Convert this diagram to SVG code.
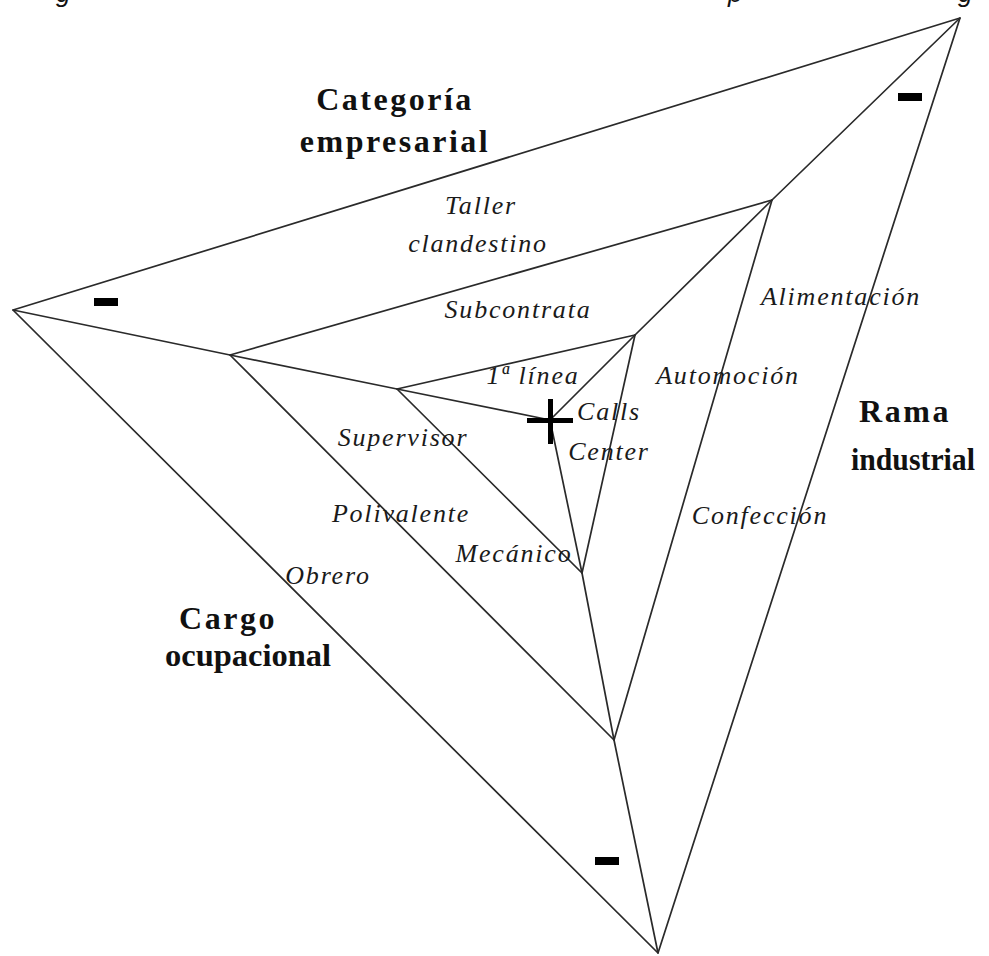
<svg xmlns="http://www.w3.org/2000/svg" width="989" height="956" viewBox="0 0 989 956">
<style>
.ln{stroke:#2a2a2a;stroke-width:1.7;fill:none;stroke-linecap:round;stroke-linejoin:round}
.bold{font-family:"Liberation Serif",serif;font-weight:bold;font-size:32px;fill:#111;letter-spacing:2.5px;text-anchor:middle}
.it{font-family:"Liberation Serif",serif;font-style:italic;font-size:26px;fill:#1a1a1a;letter-spacing:1.8px;text-anchor:middle}
.frag{font-family:"Liberation Sans",sans-serif;font-style:italic;font-size:26px;fill:#111}
.minus{fill:#000}
</style>
<rect width="989" height="956" fill="#fff"/>
<g id="caption-fragment">
<text class="frag" x="56" y="2">g</text>
<text class="frag" x="728" y="2">p</text>
<text class="frag" x="958" y="2">g</text>
</g>
<g id="connectors">
<polygon class="ln" points="13,310 960,18 658,953"/>
<polygon class="ln" points="230,355 772,200 614,740"/>
<polygon class="ln" points="397,389 635,335 582,573"/>
<line class="ln" x1="13" y1="310" x2="230" y2="355"/>
<line class="ln" x1="960" y1="18" x2="772" y2="200"/>
<line class="ln" x1="658" y1="953" x2="614" y2="740"/>
<line class="ln" x1="230" y1="355" x2="397" y2="389"/>
<line class="ln" x1="772" y1="200" x2="635" y2="335"/>
<line class="ln" x1="614" y1="740" x2="582" y2="573"/>
<line class="ln" x1="397" y1="389" x2="550" y2="420"/>
<line class="ln" x1="635" y1="335" x2="550" y2="420"/>
<line class="ln" x1="582" y1="573" x2="550" y2="420"/>
</g>
<g id="center-plus">
<rect class="minus" x="527" y="418" width="46" height="5"/>
<rect class="minus" x="548" y="399" width="5" height="45"/>
</g>
<g id="minus-signs">
<rect class="minus" x="94" y="298" width="24" height="8"/>
<rect class="minus" x="898" y="93" width="24" height="8"/>
<rect class="minus" x="595" y="857" width="24" height="8"/>
</g>
<g id="axis-categoria">
<text class="bold" x="395" y="110">Categoría</text>
<text class="bold" x="395" y="152">empresarial</text>
</g>
<g id="axis-rama">
<text class="bold" x="905" y="422">Rama</text>
<text class="bold" x="913" y="470" textLength="124" lengthAdjust="spacingAndGlyphs" style="letter-spacing:0">industrial</text>
</g>
<g id="axis-cargo">
<text class="bold" x="228" y="629">Cargo</text>
<text class="bold" x="248" y="666" textLength="166" lengthAdjust="spacingAndGlyphs" style="letter-spacing:0">ocupacional</text>
</g>
<g id="labels-categoria">
<text class="it" x="481" y="214">Taller</text>
<text class="it" x="478" y="252">clandestino</text>
<text class="it" x="518" y="318">Subcontrata</text>
<text class="it" x="533" y="384">1ª línea</text>
</g>
<g id="labels-rama">
<text class="it" x="609" y="420">Calls</text>
<text class="it" x="609" y="460">Center</text>
<text class="it" x="841" y="305">Alimentación</text>
<text class="it" x="728" y="384">Automoción</text>
<text class="it" x="760" y="524">Confección</text>
</g>
<g id="labels-cargo">
<text class="it" x="403" y="446">Supervisor</text>
<text class="it" x="401" y="522">Polivalente</text>
<text class="it" x="514" y="562">Mecánico</text>
<text class="it" x="328" y="584">Obrero</text>
</g>
</svg>
